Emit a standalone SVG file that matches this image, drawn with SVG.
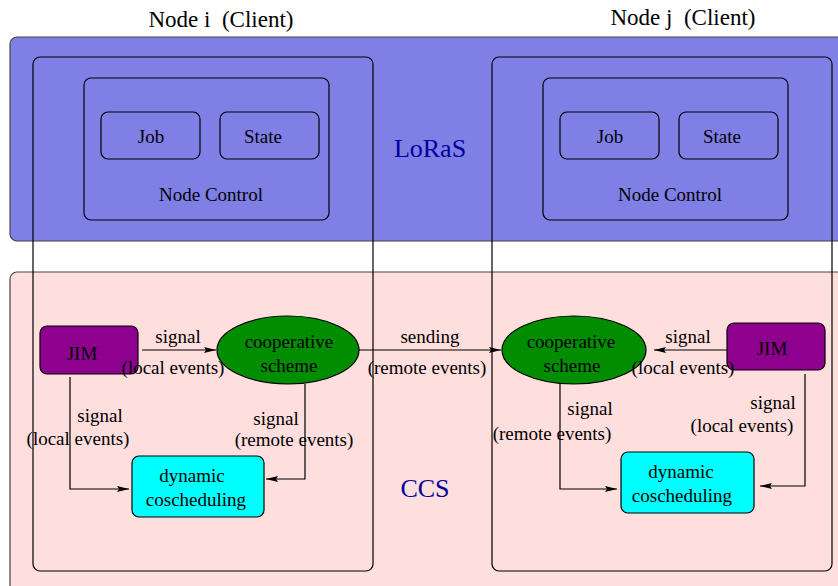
<svg xmlns="http://www.w3.org/2000/svg" width="838" height="586" viewBox="0 0 838 586">
<defs>
<style>
text{font-family:"Liberation Serif","Times New Roman",serif;fill:#000;text-anchor:middle}
.t{font-size:19px}
.ttl{font-size:23px}
.big{font-size:26px;fill:#00009c}
.box{fill:none;stroke:#000;stroke-width:1.2}
.jim{fill:#8e008e}
.coop{fill:#008e00}
.dyn{fill:#00ffff}
.layer{stroke:#444;stroke-width:1.2}
.con{fill:none;stroke:#000;stroke-width:1.2;marker-end:url(#ah)}
</style>
<marker id="ah" viewBox="0 0 12 6" refX="12" refY="3" markerWidth="12" markerHeight="6" markerUnits="userSpaceOnUse" orient="auto">
<path d="M0,0 L12,3 L0,6 L2,3 Z" fill="#000"/>
</marker>
</defs>
<rect width="838" height="586" fill="#fff"/>
<g id="loras">
<rect class="layer" x="10" y="37" width="840" height="204" rx="7" fill="#7f7fe6"/>
<text class="big" x="430" y="157">LoRaS</text>
</g>
<g id="ccs">
<rect class="layer" x="10" y="272" width="840" height="330" rx="7" fill="#ffdede"/>
<text class="big" x="425" y="497">CCS</text>
</g>
<g id="node-i">
<rect class="box" x="33" y="57" width="340" height="514" rx="7"/>
<text class="ttl" x="221" y="27">Node i&#160;&#160;(Client)</text>
</g>
<g id="node-j">
<rect class="box" x="492" y="57" width="340" height="514" rx="7"/>
<text class="ttl" x="683" y="25">Node j&#160;&#160;(Client)</text>
</g>
<g id="nodecontrol-i">
<rect class="box" x="84" y="78" width="245" height="142" rx="7"/>
<text class="t" x="211" y="201">Node Control</text>
</g>
<g id="job-i"><rect class="box" x="101" y="112" width="99" height="47" rx="7"/><text class="t" x="151" y="143">Job</text></g>
<g id="state-i"><rect class="box" x="220" y="112" width="99" height="47" rx="7"/><text class="t" x="263" y="143">State</text></g>
<g id="nodecontrol-j">
<rect class="box" x="543" y="78" width="245" height="142" rx="7"/>
<text class="t" x="670" y="201">Node Control</text>
</g>
<g id="job-j"><rect class="box" x="560" y="112" width="99" height="47" rx="7"/><text class="t" x="610" y="143">Job</text></g>
<g id="state-j"><rect class="box" x="679" y="112" width="99" height="47" rx="7"/><text class="t" x="722" y="143">State</text></g>
<g id="jim-i"><rect class="box jim" x="40" y="326" width="98" height="48" rx="7"/><text class="t" x="82" y="360">JIM</text></g>
<g id="coop-i"><ellipse class="box coop" cx="288" cy="350" rx="71" ry="34"/><text class="t" x="289" y="348">cooperative</text><text class="t" x="289" y="372">scheme</text></g>
<g id="dyn-i"><rect class="box dyn" x="132" y="456" width="132" height="61" rx="7"/><text class="t" x="192" y="482">dynamic</text><text class="t" x="196" y="506">coscheduling</text></g>
<g id="jim-j"><rect class="box jim" x="727" y="323" width="98" height="47" rx="7"/><text class="t" x="772" y="355">JIM</text></g>
<g id="coop-j"><ellipse class="box coop" cx="574" cy="350" rx="72" ry="34"/><text class="t" x="571" y="348">cooperative</text><text class="t" x="572" y="372">scheme</text></g>
<g id="dyn-j"><rect class="box dyn" x="621" y="452" width="133" height="61" rx="7"/><text class="t" x="681" y="478">dynamic</text><text class="t" x="682" y="502">coscheduling</text></g>
<g id="connectors">
<path class="con" d="M142,350 H216"/>
<path class="con" d="M70,377 V489 H129"/>
<path class="con" d="M305,384 V479 H266"/>
<path class="con" d="M359,350 H501"/>
<path class="con" d="M727,350 H654"/>
<path class="con" d="M560,384 V489 H617"/>
<path class="con" d="M805,374 V486 H760"/>
</g>
<g id="labels">
<text class="t" x="178" y="343">signal</text>
<text class="t" x="173" y="374">(local events)</text>
<text class="t" x="100" y="422">signal</text>
<text class="t" x="78" y="445">(local events)</text>
<text class="t" x="276" y="425">signal</text>
<text class="t" x="294" y="446">(remote events)</text>
<text class="t" x="430" y="343">sending</text>
<text class="t" x="427" y="374">(remote events)</text>
<text class="t" x="688" y="343">signal</text>
<text class="t" x="683" y="374">(local events)</text>
<text class="t" x="590" y="415">signal</text>
<text class="t" x="552" y="440">(remote events)</text>
<text class="t" x="773" y="409">signal</text>
<text class="t" x="742" y="432">(local events)</text>
</g>
</svg>
